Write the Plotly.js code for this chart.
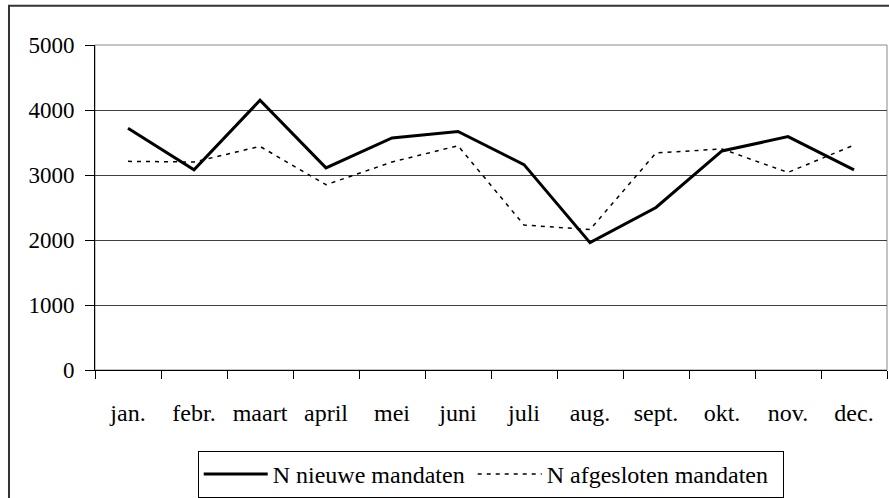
<!DOCTYPE html>
<html>
<head>
<meta charset="utf-8">
<script src="https://cdn.plot.ly/plotly-3.0.1.min.js"></script>
<style>html,body{margin:0;padding:0;background:#fff;}#chart{width:889px;height:498px;}</style>
</head>
<body>
<div id="chart"></div>
<script>
const months = ["jan.", "febr.", "maart", "april", "mei", "juni", "juli", "aug.", "sept.", "okt.", "nov.", "dec."];
const seriesNames = ["N nieuwe mandaten", "N afgesloten mandaten"];
const nieuwe = [3720, 3080, 4150, 3110, 3570, 3670, 3160, 1960, 2500, 3370, 3590, 3080];
const afgesloten = [3210, 3200, 3440, 2850, 3200, 3450, 2230, 2160, 3340, 3400, 3040, 3460];
const yTicks = [0, 1000, 2000, 3000, 4000, 5000];

const FONT = "Liberation Serif";

const traces = [
  {x: months, y: nieuwe, name: seriesNames[0], type: "scatter", mode: "lines",
   line: {color: "#000", width: 3}, legendwidth: 195},
  {x: months, y: afgesloten, name: seriesNames[1], type: "scatter", mode: "lines",
   line: {color: "#000", width: 1.5, dash: "4px,5px"}, legendwidth: 231}
];

const layout = {
  width: 889, height: 498,
  margin: {l: 95, r: 2, t: 45, b: 128, autoexpand: false},
  paper_bgcolor: "#fff", plot_bgcolor: "#fff",
  font: {family: FONT, size: 24, color: "#000"},
  showlegend: true,
  legend: {
    orientation: "h", x: 0.1297, y: -0.249, xanchor: "left", yanchor: "top",
    bordercolor: "#000", borderwidth: 1, bgcolor: "#fff",
    font: {family: FONT, size: 24, color: "#000"},
    itemwidth: 64, tracegroupgap: 0
  },
  xaxis: {
    type: "category", categoryorder: "array", categoryarray: months,
    tickson: "boundaries", ticks: "outside", ticklen: 8, tickcolor: "#000", tickwidth: 1,
    showline: true, linecolor: "#000", linewidth: 1, showgrid: false, zeroline: false,
    ticklabelstandoff: 21, range: [-0.5, 11.5], fixedrange: true,
    tickfont: {family: FONT, size: 24, color: "#000"}
  },
  yaxis: {
    range: [0, 5000], tickvals: yTicks, ticktext: yTicks.map(String),
    ticks: "outside", ticklen: 9, tickcolor: "#000", tickwidth: 1,
    showline: true, linecolor: "#000", linewidth: 1,
    showgrid: true, gridcolor: "#404040", gridwidth: 1, zeroline: false,
    ticklabelstandoff: 6, fixedrange: true,
    tickfont: {family: FONT, size: 23, color: "#000"}
  },
  shapes: [
    {type: "rect", xref: "paper", yref: "paper", x0: 0, x1: 1, y0: 0, y1: 1,
     line: {color: "#8a8a8a", width: 1}, layer: "below"},
    {type: "rect", xref: "paper", yref: "paper", x0: -0.1086, x1: 1.0045, y0: -0.40, y1: 1.121,
     line: {color: "#333", width: 2}, layer: "below"}
  ]
};

Plotly.newPlot("chart", traces, layout, {displayModeBar: false, staticPlot: true});
</script>
</body>
</html>
